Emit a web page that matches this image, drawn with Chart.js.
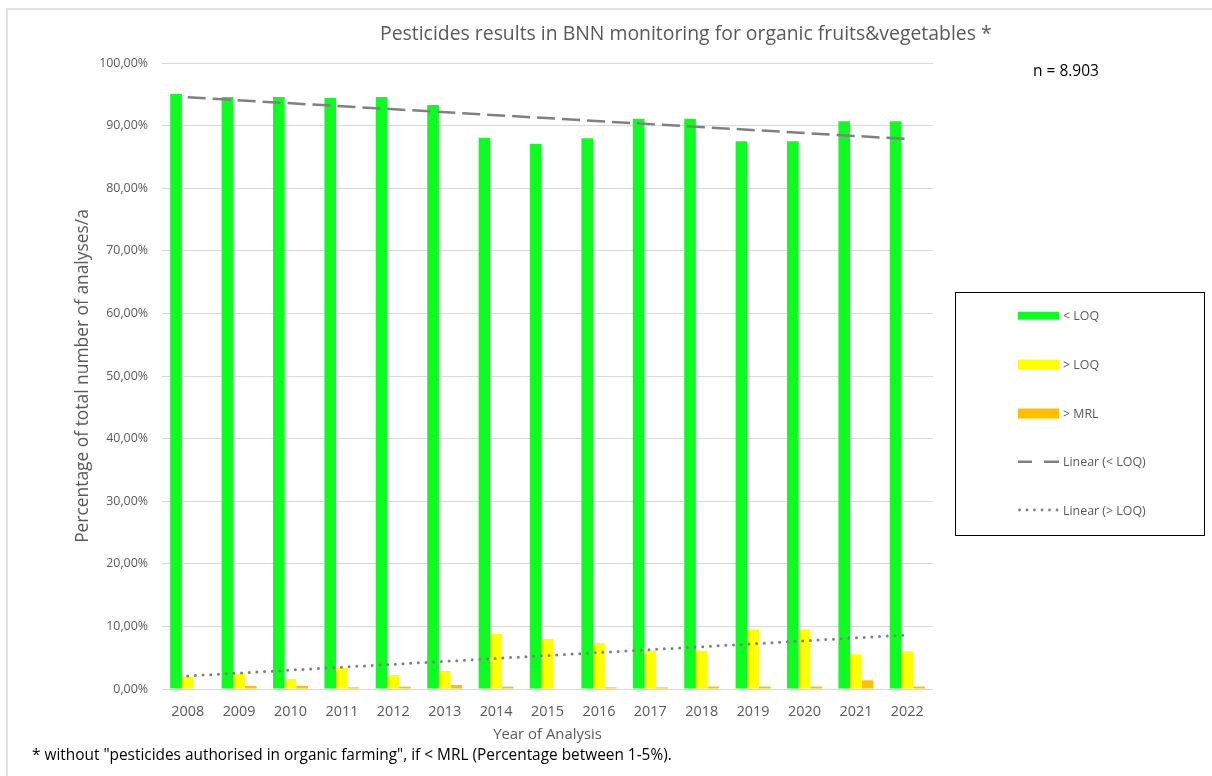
<!DOCTYPE html>
<html><head><meta charset="utf-8">
<script src="https://cdn.jsdelivr.net/npm/chart.js@4.4.1/dist/chart.umd.min.js"></script>
<style>html,body{margin:0;padding:0;background:#fff;}#wrap{width:1212px;height:776px;}</style>
</head><body><div id="wrap"><canvas id="c" width="1212" height="776"></canvas></div>
<script>
const years = ['2008','2009','2010','2011','2012','2013','2014','2015','2016','2017','2018','2019','2020','2021','2022'];
const belowLOQ = [95.05, 94.57, 94.57, 94.4, 94.57, 93.3, 88.07, 87.06, 87.97, 91.1, 91.1, 87.5, 87.5, 90.7, 90.7];
const aboveLOQ = [1.97, 2.5, 1.6, 3.35, 2.24, 2.88, 8.79, 7.99, 7.35, 6.12, 6.12, 9.53, 9.53, 5.54, 6.02];
const aboveMRL = [0, 0.5, 0.5, 0.27, 0.38, 0.64, 0.38, 0, 0.27, 0.27, 0.4, 0.4, 0.4, 1.39, 0.4];
// trendline endpoints (first and last year only)
const trendBelowLOQ = [94.52, null, null, null, null, null, null, null, null, null, null, null, null, null, 87.86];
const trendAboveLOQ = [2.08, null, null, null, null, null, null, null, null, null, null, null, null, null, 8.63];
const seriesLabels = ['< LOQ', '> LOQ', '> MRL', 'Linear (< LOQ)', 'Linear (> LOQ)'];
const titleText = 'Pesticides results in BNN monitoring for organic fruits&vegetables *';
const nText = 'n = 8.903';
const footnote = '* without "pesticides authorised in organic farming", if < MRL (Percentage between 1-5%).';
const xTitle = 'Year of Analysis';
const yTitle = 'Percentage of total number of analyses/a';

const FONT = '"Open Sans"';
const GREY = '#595959';

// choose font sizes so that text widths match the reference
const mctx = document.createElement('canvas').getContext('2d');
function fit(text, target) {
  mctx.font = '100px ' + FONT;
  return Math.round(100 * target / mctx.measureText(text).width * 10) / 10;
}
const S = {
  title: fit(titleText, 612),
  n: fit(nText, 66),
  foot: fit(footnote, 640),
  xt: fit('2013', 33),
  yt: fit('100,00%', 49),
  xTitle: fit(xTitle, 109),
  yTitle: fit(yTitle, 333),
  leg: fit('Linear (> LOQ)', 83)
};

const extras = {
  id: 'extras',
  beforeDraw(chart) {
    const ctx = chart.ctx;
    ctx.save();
    ctx.fillStyle = '#fff';
    ctx.fillRect(0, 0, chart.width, chart.height);
    ctx.restore();
  },
  afterDraw(chart) {
    const ctx = chart.ctx;
    ctx.save();
    ctx.strokeStyle = '#d9d9d9';
    ctx.lineWidth = 1.5;
    ctx.strokeRect(7, 9, 1400, 1000);
    ctx.fillStyle = GREY;
    ctx.font = S.title + 'px ' + FONT;
    ctx.textAlign = 'left';
    ctx.textBaseline = 'middle';
    ctx.fillText(titleText, 380, 34.5);
    ctx.fillStyle = '#000';
    ctx.font = S.n + 'px ' + FONT;
    ctx.fillText(nText, 1033, 72);
    ctx.font = S.foot + 'px ' + FONT;
    ctx.fillText(footnote, 32, 756);
    ctx.strokeStyle = '#000';
    ctx.lineWidth = 1;
    ctx.strokeRect(955.5, 292.5, 249, 243);
    const ds = chart.data.datasets;
    const rows = [315.7, 364.7, 413.5, 461.7, 510];
    const hs = [8, 10, 10];
    ctx.font = S.leg + 'px ' + FONT;
    for (let i = 0; i < 5; i++) {
      const y = rows[i];
      if (i < 3) {
        ctx.fillStyle = ds[i].backgroundColor;
        ctx.fillRect(1018, y - hs[i] / 2, 41, hs[i]);
      } else if (i === 3) {
        ctx.strokeStyle = ds[i].borderColor;
        ctx.lineWidth = 2.5;
        ctx.beginPath();
        ctx.moveTo(1018, y); ctx.lineTo(1032, y);
        ctx.moveTo(1044, y); ctx.lineTo(1059, y);
        ctx.stroke();
      } else {
        ctx.fillStyle = ds[i].borderColor;
        for (let k = 0; k < 6; k++) {
          ctx.beginPath();
          ctx.arc(1019.5 + k * 7.5, y, 1.4, 0, Math.PI * 2);
          ctx.fill();
        }
      }
      ctx.fillStyle = GREY;
      ctx.fillText(ds[i].label, 1063, y + 1);
    }
    ctx.restore();
  }
};

new Chart(document.getElementById('c'), {
  type: 'bar',
  data: {
    labels: years,
    datasets: [
      { label: seriesLabels[0], data: belowLOQ, backgroundColor: '#0efc22', categoryPercentage: 0.68, barPercentage: 1.0 },
      { label: seriesLabels[1], data: aboveLOQ, backgroundColor: '#ffff00', categoryPercentage: 0.68, barPercentage: 1.0 },
      { label: seriesLabels[2], data: aboveMRL, backgroundColor: '#ffc000', categoryPercentage: 0.68, barPercentage: 1.0 },
      { type: 'line', label: seriesLabels[3], data: trendBelowLOQ, borderColor: '#808080', borderWidth: 2.5,
        borderDash: [18, 7], pointRadius: 0, spanGaps: true, fill: false, order: -1 },
      { type: 'line', label: seriesLabels[4], data: trendAboveLOQ, borderColor: '#7f7f7f', borderWidth: 3,
        borderDash: [0, 7.7], borderCapStyle: 'round', pointRadius: 0, spanGaps: true, fill: false, order: -1 }
    ]
  },
  options: {
    responsive: false,
    animation: false,
    devicePixelRatio: 1,
    layout: { padding: { left: 70, right: 279, top: 63, bottom: 30 } },
    plugins: { legend: { display: false }, tooltip: { enabled: false }, title: { display: false } },
    scales: {
      x: {
        grid: { display: false, drawTicks: false },
        border: { display: false },
        ticks: { color: GREY, font: { family: FONT, size: S.xt }, padding: 14, maxRotation: 0 },
        title: { display: true, text: xTitle, color: GREY, font: { family: FONT, size: S.xTitle }, padding: { top: 0, bottom: 2 } },
        afterFit(s) { s.height = 57; }
      },
      y: {
        min: 0, max: 100,
        grid: { color: '#d9d9d9', lineWidth: 1, drawTicks: false },
        border: { display: false },
        ticks: { stepSize: 10, color: GREY, font: { family: FONT, size: S.yt }, padding: 14,
          callback: v => v.toFixed(2).replace('.', ',') + '%' },
        title: { display: true, text: yTitle, color: GREY, font: { family: FONT, size: S.yTitle }, padding: { top: 3, bottom: 0 } },
        afterFit(s) { s.width = 92; }
      }
    }
  },
  plugins: [extras]
});
</script>
</body></html>
